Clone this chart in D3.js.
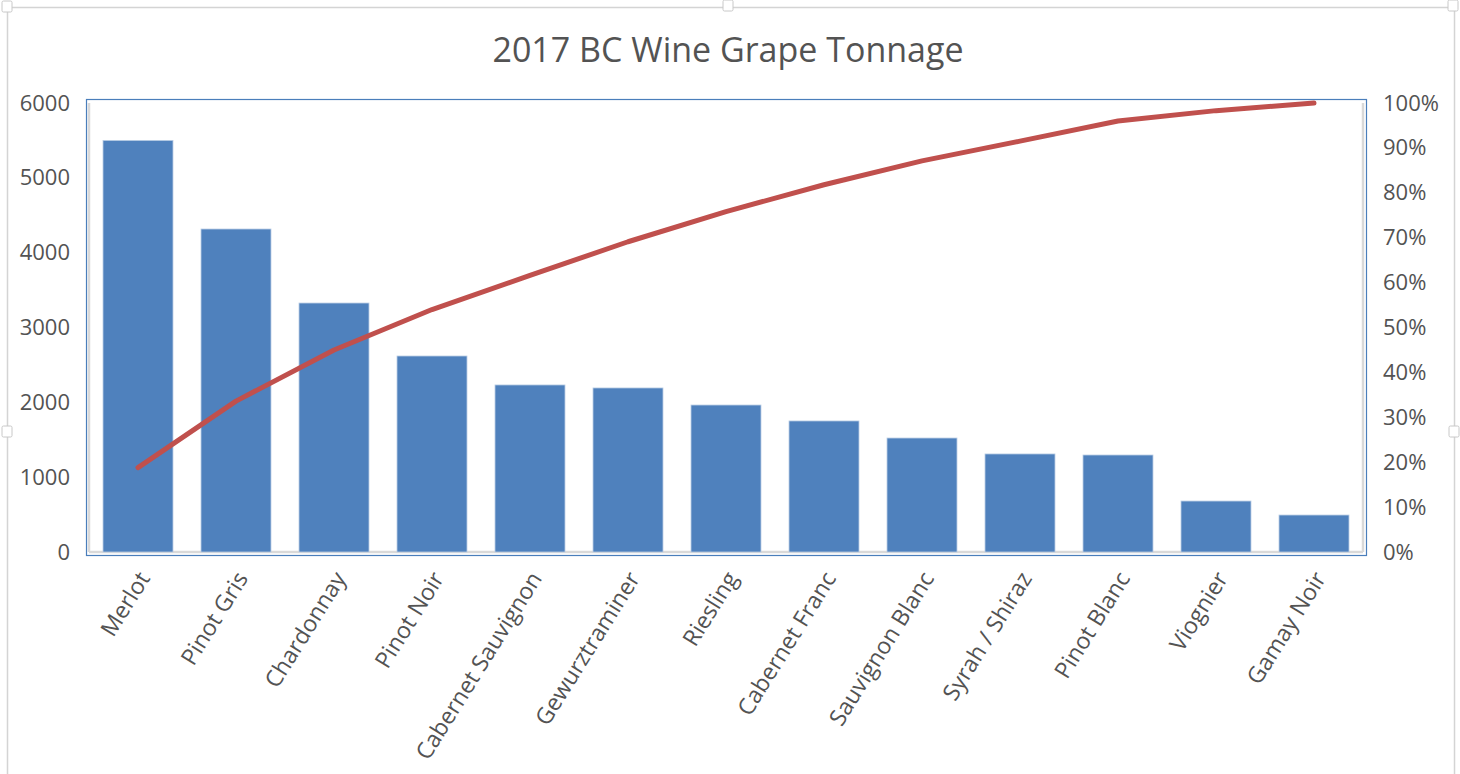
<!DOCTYPE html>
<html>
<head>
<meta charset="utf-8">
<script src="https://cdn.jsdelivr.net/npm/d3@7"></script>
<style>
  body { margin: 0; background: #fff; }
  text { font-family: "Open Sans", sans-serif; fill: #535353; }
</style>
</head>
<body>
<svg id="chart" width="1460" height="774"></svg>
<script>
// grape varieties, tonnes and cumulative share
const varieties = ["Merlot", "Pinot Gris", "Chardonnay", "Pinot Noir", "Cabernet Sauvignon",
  "Gewurztraminer", "Riesling", "Cabernet Franc", "Sauvignon Blanc", "Syrah / Shiraz",
  "Pinot Blanc", "Viognier", "Gamay Noir"];
const tonnes = [5500, 4316, 3327, 2619, 2232, 2192, 1964, 1751, 1523, 1310, 1296, 681, 494];
const cumulative = [0.188, 0.336, 0.450, 0.540, 0.616, 0.691, 0.758, 0.818, 0.871, 0.915, 0.960, 0.983, 1.0];
const tonneTicks = [0, 1000, 2000, 3000, 4000, 5000, 6000];
const pctTicks = [0, 0.1, 0.2, 0.3, 0.4, 0.5, 0.6, 0.7, 0.8, 0.9, 1.0];

const svg = d3.select("#chart");

// chart frame + selection handles
svg.append("rect")
  .attr("x", 7.5).attr("y", 7.5)
  .attr("width", 1447).attr("height", 800)
  .attr("fill", "#fff")
  .attr("stroke", "#d4d4d4").attr("stroke-width", 1.5);

const handles = [[7, 7], [728, 6], [1453, 6], [7, 432], [1454, 432]];
svg.selectAll(".handle")
  .data(handles)
  .enter()
  .append("rect")
  .classed("handle", true)
  .attr("x", (d) => d[0] - 5).attr("y", (d) => d[1] - 6)
  .attr("width", 10).attr("height", 11)
  .attr("rx", 1.5)
  .attr("fill", "#fff")
  .attr("stroke", "#c8c8c8");

const plotLeft = 89, plotRight = 1363, plotTop = 103, plotBottom = 552;

const xScale = d3.scaleBand()
  .domain(varieties)
  .range([plotLeft, plotRight])
  .paddingInner(0.286)
  .paddingOuter(0.143);

const yScale = d3.scaleLinear().domain([0, 6000]).range([plotBottom, plotTop]);
const pScale = d3.scaleLinear().domain([0, 1]).range([plotBottom, plotTop]);

// title
svg.append("text")
  .attr("x", 728).attr("y", 62)
  .attr("text-anchor", "middle")
  .style("font-size", "34px")
  .text("2017 BC Wine Grape Tonnage");

// plot area: grey axis lines
svg.append("line")
  .attr("x1", plotLeft).attr("x2", plotLeft).attr("y1", plotTop).attr("y2", plotBottom)
  .attr("stroke", "#d9d9d9").attr("stroke-width", 2.5);
svg.append("line")
  .attr("x1", plotRight).attr("x2", plotRight).attr("y1", plotTop).attr("y2", plotBottom)
  .attr("stroke", "#d9d9d9").attr("stroke-width", 2.5);
svg.append("line")
  .attr("x1", plotLeft).attr("x2", plotRight).attr("y1", plotBottom).attr("y2", plotBottom)
  .attr("stroke", "#d9d9d9").attr("stroke-width", 2.5);

// bars
svg.selectAll(".bar")
  .data(tonnes)
  .enter()
  .append("rect")
  .classed("bar", true)
  .attr("x", (d, i) => xScale(varieties[i]))
  .attr("width", xScale.bandwidth())
  .attr("y", (d) => yScale(d))
  .attr("height", (d) => plotBottom - yScale(d))
  .attr("fill", "#4f81bd")
  .attr("stroke", "#b8cce4")
  .attr("stroke-width", 0.8);

// cumulative line
const line = d3.line()
  .x((d, i) => xScale(varieties[i]) + xScale.bandwidth() / 2)
  .y((d) => pScale(d));

svg.append("path")
  .datum(cumulative)
  .attr("d", line)
  .attr("fill", "none")
  .attr("stroke", "#c0504d")
  .attr("stroke-width", 5)
  .attr("stroke-linecap", "round")
  .attr("stroke-linejoin", "round");

// blue selection border of the plot area
svg.append("rect")
  .attr("x", 86.5).attr("y", 99.5)
  .attr("width", 1280).attr("height", 456)
  .attr("fill", "none")
  .attr("stroke", "#4a7ebb").attr("stroke-width", 1.2);

// axes
const yAxis = d3.axisLeft(yScale).tickValues(tonneTicks).tickSize(0)
  .tickPadding(19).tickFormat(d3.format("d"));
const gy = svg.append("g").attr("transform", `translate(${plotLeft},0)`).call(yAxis);

const pAxis = d3.axisRight(pScale).tickValues(pctTicks).tickSize(0)
  .tickPadding(20).tickFormat(d3.format(".0%"));
const gp = svg.append("g").attr("transform", `translate(${plotRight},0)`).call(pAxis);

const xAxis = d3.axisBottom(xScale).tickSize(0).tickPadding(0);
const gx = svg.append("g").attr("transform", `translate(0,${plotBottom})`).call(xAxis);

[gy, gp, gx].forEach((g) => {
  g.select(".domain").remove();
  g.selectAll("text")
    .style("font-size", "22px")
    .style("font-family", "\"Open Sans\", sans-serif")
    .attr("fill", "#535353");
});

gx.selectAll("text")
  .style("font-size", "23px")
  .attr("text-anchor", "end")
  .attr("dy", "0.35em")
  .attr("y", 0)
  .attr("transform", "translate(6,22) rotate(-58)");
</script>
</body>
</html>
